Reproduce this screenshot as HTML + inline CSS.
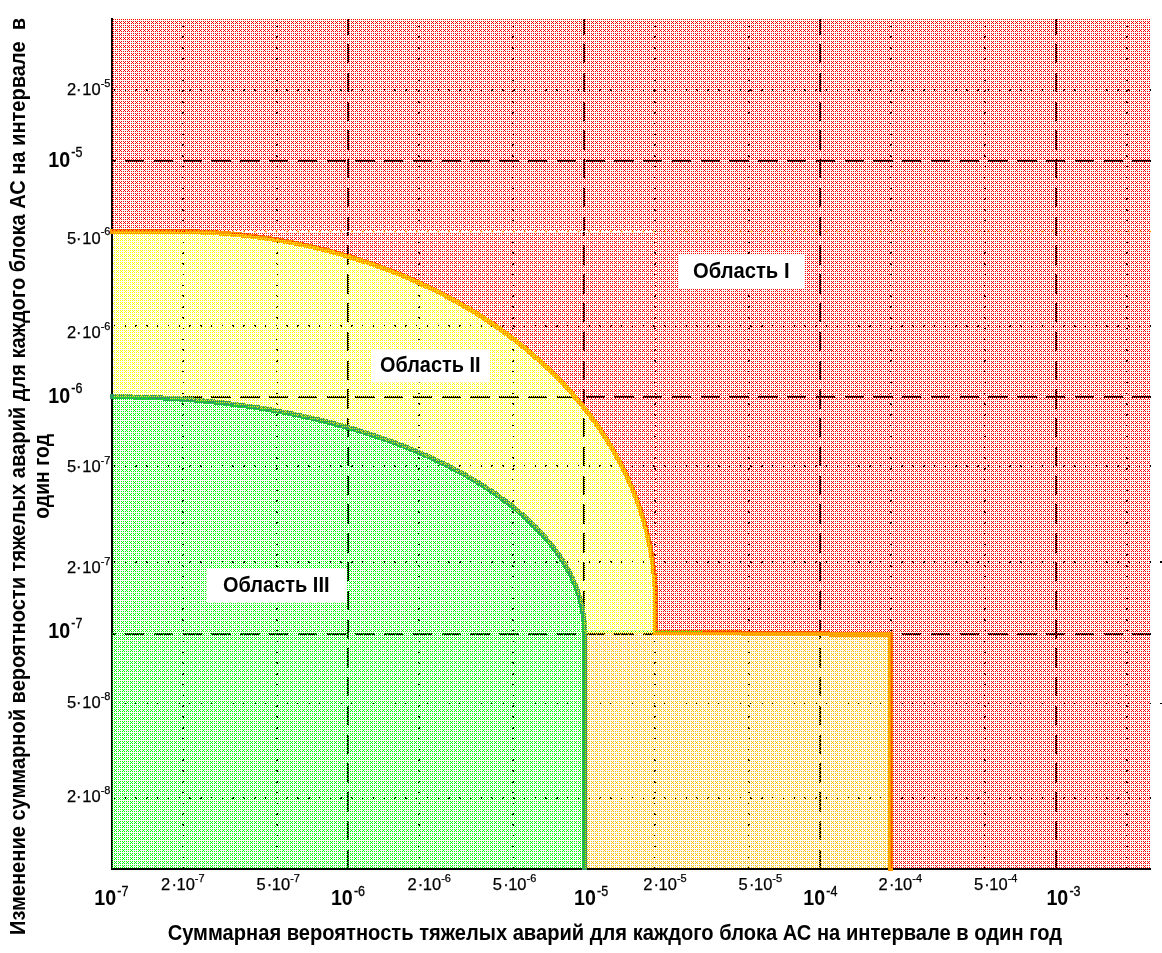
<!DOCTYPE html>
<html lang="ru"><head><meta charset="utf-8"><title>Области вероятности тяжелых аварий</title>
<style>
html,body{margin:0;padding:0;background:#fff;}
body{width:1162px;height:953px;overflow:hidden;position:relative;font-family:"Liberation Sans",Arial,sans-serif;}
svg{position:absolute;left:0;top:0;display:block;}
text{font-family:"Liberation Sans",Arial,sans-serif;fill:#000;}
.t{font-size:16.5px;stroke:#000;stroke-width:0.25px;}
.ts{font-size:11px;}
.m{font-size:22px;font-weight:bold;}
.ms{font-size:14px;font-weight:normal;stroke:#000;stroke-width:0.3px;}
.ttl{font-size:21.3px;font-weight:bold;}
.lab{font-size:21.3px;font-weight:bold;}
</style></head><body>
<svg width="1162" height="953" viewBox="0 0 1162 953">
<defs>
<pattern id="pr" width="8" height="8" patternUnits="userSpaceOnUse" x="0" y="0"><g fill="#ff0000"><rect x="1" y="1" width="1" height="1"/><rect x="3" y="1" width="1" height="1"/><rect x="5" y="1" width="1" height="1"/><rect x="7" y="1" width="1" height="1"/><rect x="1" y="3" width="1" height="1"/><rect x="3" y="3" width="1" height="1"/><rect x="5" y="3" width="1" height="1"/><rect x="7" y="3" width="1" height="1"/><rect x="1" y="5" width="1" height="1"/><rect x="3" y="5" width="1" height="1"/><rect x="5" y="5" width="1" height="1"/><rect x="7" y="5" width="1" height="1"/><rect x="1" y="7" width="1" height="1"/><rect x="3" y="7" width="1" height="1"/><rect x="5" y="7" width="1" height="1"/><rect x="7" y="7" width="1" height="1"/><rect x="0" y="6" width="1" height="1"/><rect x="4" y="6" width="1" height="1"/><rect x="0" y="2" width="1" height="1"/></g></pattern>
<pattern id="pb" width="8" height="8" patternUnits="userSpaceOnUse" x="7" y="0"><g fill="#ff0000"><rect x="1" y="1" width="1" height="1"/><rect x="3" y="1" width="1" height="1"/><rect x="5" y="1" width="1" height="1"/><rect x="7" y="1" width="1" height="1"/><rect x="1" y="3" width="1" height="1"/><rect x="3" y="3" width="1" height="1"/><rect x="5" y="3" width="1" height="1"/><rect x="7" y="3" width="1" height="1"/><rect x="1" y="5" width="1" height="1"/><rect x="3" y="5" width="1" height="1"/><rect x="5" y="5" width="1" height="1"/><rect x="7" y="5" width="1" height="1"/><rect x="1" y="7" width="1" height="1"/><rect x="3" y="7" width="1" height="1"/><rect x="5" y="7" width="1" height="1"/><rect x="7" y="7" width="1" height="1"/><rect x="0" y="6" width="1" height="1"/><rect x="4" y="6" width="1" height="1"/><rect x="0" y="2" width="1" height="1"/></g></pattern>
<pattern id="py" width="8" height="8" patternUnits="userSpaceOnUse" x="5" y="1"><g fill="#ffff00"><rect x="1" y="1" width="1" height="1"/><rect x="3" y="1" width="1" height="1"/><rect x="5" y="1" width="1" height="1"/><rect x="7" y="1" width="1" height="1"/><rect x="1" y="3" width="1" height="1"/><rect x="3" y="3" width="1" height="1"/><rect x="5" y="3" width="1" height="1"/><rect x="7" y="3" width="1" height="1"/><rect x="1" y="5" width="1" height="1"/><rect x="3" y="5" width="1" height="1"/><rect x="5" y="5" width="1" height="1"/><rect x="7" y="5" width="1" height="1"/><rect x="1" y="7" width="1" height="1"/><rect x="3" y="7" width="1" height="1"/><rect x="5" y="7" width="1" height="1"/><rect x="7" y="7" width="1" height="1"/><rect x="0" y="6" width="1" height="1"/><rect x="4" y="6" width="1" height="1"/><rect x="0" y="2" width="1" height="1"/></g></pattern>
<pattern id="pg" width="8" height="8" patternUnits="userSpaceOnUse" x="6" y="0"><g fill="#00ff00"><rect x="1" y="1" width="1" height="1"/><rect x="3" y="1" width="1" height="1"/><rect x="5" y="1" width="1" height="1"/><rect x="7" y="1" width="1" height="1"/><rect x="1" y="3" width="1" height="1"/><rect x="3" y="3" width="1" height="1"/><rect x="5" y="3" width="1" height="1"/><rect x="7" y="3" width="1" height="1"/><rect x="1" y="5" width="1" height="1"/><rect x="3" y="5" width="1" height="1"/><rect x="5" y="5" width="1" height="1"/><rect x="7" y="5" width="1" height="1"/><rect x="1" y="7" width="1" height="1"/><rect x="3" y="7" width="1" height="1"/><rect x="5" y="7" width="1" height="1"/><rect x="7" y="7" width="1" height="1"/><rect x="0" y="6" width="1" height="1"/><rect x="4" y="6" width="1" height="1"/><rect x="0" y="2" width="1" height="1"/></g></pattern>
<pattern id="ph" width="8" height="8" patternUnits="userSpaceOnUse" x="3" y="0"><g fill="#00ff00"><rect x="1" y="1" width="1" height="1"/><rect x="3" y="1" width="1" height="1"/><rect x="5" y="1" width="1" height="1"/><rect x="7" y="1" width="1" height="1"/><rect x="1" y="3" width="1" height="1"/><rect x="3" y="3" width="1" height="1"/><rect x="5" y="3" width="1" height="1"/><rect x="7" y="3" width="1" height="1"/><rect x="1" y="5" width="1" height="1"/><rect x="3" y="5" width="1" height="1"/><rect x="5" y="5" width="1" height="1"/><rect x="7" y="5" width="1" height="1"/><rect x="1" y="7" width="1" height="1"/><rect x="3" y="7" width="1" height="1"/><rect x="5" y="7" width="1" height="1"/><rect x="7" y="7" width="1" height="1"/><rect x="0" y="6" width="1" height="1"/><rect x="4" y="6" width="1" height="1"/><rect x="0" y="2" width="1" height="1"/></g></pattern>
<pattern id="po" width="8" height="8" patternUnits="userSpaceOnUse" x="4" y="0"><g fill="#ffc000"><rect x="1" y="1" width="1" height="1"/><rect x="3" y="1" width="1" height="1"/><rect x="5" y="1" width="1" height="1"/><rect x="7" y="1" width="1" height="1"/><rect x="1" y="3" width="1" height="1"/><rect x="3" y="3" width="1" height="1"/><rect x="5" y="3" width="1" height="1"/><rect x="7" y="3" width="1" height="1"/><rect x="1" y="5" width="1" height="1"/><rect x="3" y="5" width="1" height="1"/><rect x="5" y="5" width="1" height="1"/><rect x="7" y="5" width="1" height="1"/><rect x="1" y="7" width="1" height="1"/><rect x="3" y="7" width="1" height="1"/><rect x="5" y="7" width="1" height="1"/><rect x="7" y="7" width="1" height="1"/><rect x="0" y="6" width="1" height="1"/><rect x="4" y="6" width="1" height="1"/><rect x="0" y="2" width="1" height="1"/></g></pattern>
</defs>
<rect width="1162" height="953" fill="#fff"/>
<g stroke="#000" fill="none" stroke-width="2" stroke-dasharray="19.3 9.48" shape-rendering="crispEdges">
<line x1="348" y1="19" x2="348" y2="868" stroke-dashoffset="3.8"/>
<line x1="584" y1="19" x2="584" y2="868" stroke-dashoffset="3.8"/>
<line x1="820" y1="19" x2="820" y2="868" stroke-dashoffset="3.8"/>
<line x1="1056" y1="19" x2="1056" y2="868" stroke-dashoffset="3.8"/>
<line x1="112" y1="161" x2="1151" y2="161" stroke-dashoffset="15.7"/>
<line x1="112" y1="397" x2="1151" y2="397" stroke-dashoffset="15.7"/>
<line x1="112" y1="634" x2="1151" y2="634" stroke-dashoffset="15.7"/>
</g>
<g stroke="#000" fill="none" stroke-width="1.5" stroke-dasharray="1.5 9.29" shape-rendering="crispEdges">
<line x1="183.0" y1="25.7" x2="183.0" y2="868"/>
<line x1="277.0" y1="25.7" x2="277.0" y2="868"/>
<line x1="419.0" y1="25.7" x2="419.0" y2="868"/>
<line x1="513.0" y1="25.7" x2="513.0" y2="868"/>
<line x1="655.0" y1="25.7" x2="655.0" y2="868"/>
<line x1="749.0" y1="25.7" x2="749.0" y2="868"/>
<line x1="891.0" y1="25.7" x2="891.0" y2="868"/>
<line x1="985.0" y1="25.7" x2="985.0" y2="868"/>
<line x1="1127.0" y1="25.7" x2="1127.0" y2="868"/>
<line x1="113.8" y1="90.2" x2="1152" y2="90.2"/>
<line x1="113.8" y1="325.9" x2="1152" y2="325.9"/>
<line x1="113.8" y1="466.2" x2="1152" y2="466.2"/>
<line x1="113.8" y1="561.8" x2="1162" y2="561.8"/>
<line x1="113.8" y1="703.6" x2="1162" y2="703.6"/>
<line x1="113.8" y1="798.0" x2="1152" y2="798.0"/>
</g>
<rect x="111" y="18" width="2" height="852" fill="#000"/>
<rect x="111" y="868" width="1040" height="2" fill="#000"/>
<rect x="200" y="231" width="455" height="1" fill="#fff"/>
<path d="M110,231.5 L112,231.5 H175.8 A479.7,371 0 0 1 655.5,602.5 V632.5 L829,633.5" fill="none" stroke="#ff9900" stroke-width="5" stroke-linejoin="miter" shape-rendering="crispEdges"/>
<path d="M829,634.5 L890.5,634.5 L890.5,871" fill="none" stroke="#ff9900" stroke-width="5" stroke-linejoin="miter" shape-rendering="crispEdges"/>
<path d="M110,396.7 L112,396.7 H116.1 A468.4,235 0 0 1 584.5,631.7 V633 V870" fill="none" stroke="#339966" stroke-width="5" shape-rendering="crispEdges"/>
<g shape-rendering="crispEdges">
<path d="M112,19 H1151 V869 H890.5 V633 H655.5 V231 H112 Z" fill="url(#pr)"/>
<path d="M112,232 H655.5 V633 H112 Z M112,231.5 H175.8 A473.5,366.2 0 0 1 655.5,602.5 V633 L112,633 Z" fill-rule="evenodd" fill="url(#pb)"/>
<path d="M113,231.5 H175.8 A473.5,366.2 0 0 1 655.5,602.5 V633 L113,633 Z M113,396.7 H116.1 A471.7,236.6 0 0 1 584.5,631.7 V633 L113,633 Z" fill-rule="evenodd" fill="url(#py)"/>
<rect x="584.5" y="633" width="306" height="236" fill="url(#po)"/>
<path d="M112,396.7 H116.1 A471.7,236.6 0 0 1 584.5,631.7 V633 L112,633 Z" fill="url(#pg)"/>
<rect x="112" y="633" width="472.5" height="236" fill="url(#ph)"/>
</g>
<g stroke="#00ff00" stroke-width="1" shape-rendering="crispEdges"><line x1="587" y1="631.5" x2="655" y2="631.5" stroke-dasharray="1 3"/><line x1="655" y1="631.5" x2="703" y2="631.5" stroke-dasharray="1 1"/></g>
<line x1="113.8" y1="231.5" x2="1151" y2="231.5" stroke="#ff9900" stroke-width="1.3" stroke-dasharray="1.7 9.09"/>
<rect x="679.0" y="254.0" width="126.0" height="34.0" fill="#fff"/>
<text class="lab" x="693.0" y="278.0" textLength="96.5" lengthAdjust="spacingAndGlyphs">Область I</text>
<rect x="371.0" y="349.0" width="119.0" height="33.5" fill="#fff"/>
<text class="lab" x="380.0" y="372.0" textLength="100.5" lengthAdjust="spacingAndGlyphs">Область II</text>
<rect x="206.5" y="568.0" width="140.5" height="34.5" fill="#fff"/>
<text class="lab" x="223.0" y="592.0" textLength="106.5" lengthAdjust="spacingAndGlyphs">Область III</text>
<text class="t" x="66.9" y="94.8">2<tspan dx="0">·</tspan><tspan dx="0.7">10</tspan><tspan class="ts" dy="-8.2">-5</tspan></text>
<text class="t" x="66.9" y="243.6">5<tspan dx="0">·</tspan><tspan dx="0.7">10</tspan><tspan class="ts" dy="-8.2">-6</tspan></text>
<text class="t" x="66.9" y="337.8">2<tspan dx="0">·</tspan><tspan dx="0.7">10</tspan><tspan class="ts" dy="-8.2">-6</tspan></text>
<text class="t" x="66.9" y="472.4">5<tspan dx="0">·</tspan><tspan dx="0.7">10</tspan><tspan class="ts" dy="-8.2">-7</tspan></text>
<text class="t" x="66.9" y="573.4">2<tspan dx="0">·</tspan><tspan dx="0.7">10</tspan><tspan class="ts" dy="-8.2">-7</tspan></text>
<text class="t" x="66.9" y="708.3">5<tspan dx="0">·</tspan><tspan dx="0.7">10</tspan><tspan class="ts" dy="-8.2">-8</tspan></text>
<text class="t" x="66.9" y="802.4">2<tspan dx="0">·</tspan><tspan dx="0.7">10</tspan><tspan class="ts" dy="-8.2">-8</tspan></text>
<text class="m" transform="translate(48.2,166.8) scale(0.895,1)">10<tspan class="ms" dx="1.3" dy="-10">-5</tspan></text>
<text class="m" transform="translate(48.2,402.5) scale(0.895,1)">10<tspan class="ms" dx="1.3" dy="-10">-6</tspan></text>
<text class="m" transform="translate(48.2,638.3) scale(0.895,1)">10<tspan class="ms" dx="1.3" dy="-10">-7</tspan></text>
<text class="t" x="161.1" y="890.4">2<tspan dx="1.2">·</tspan><tspan dx="-0.5">10</tspan><tspan class="ts" dy="-8.2">-7</tspan></text>
<text class="t" x="256.4" y="890.4">5<tspan dx="1.2">·</tspan><tspan dx="-0.5">10</tspan><tspan class="ts" dy="-8.2">-7</tspan></text>
<text class="t" x="407.4" y="890.4">2<tspan dx="1.2">·</tspan><tspan dx="-0.5">10</tspan><tspan class="ts" dy="-8.2">-6</tspan></text>
<text class="t" x="492.8" y="890.4">5<tspan dx="1.2">·</tspan><tspan dx="-0.5">10</tspan><tspan class="ts" dy="-8.2">-6</tspan></text>
<text class="t" x="643.2" y="890.4">2<tspan dx="1.2">·</tspan><tspan dx="-0.5">10</tspan><tspan class="ts" dy="-8.2">-5</tspan></text>
<text class="t" x="738.6" y="890.4">5<tspan dx="1.2">·</tspan><tspan dx="-0.5">10</tspan><tspan class="ts" dy="-8.2">-5</tspan></text>
<text class="t" x="878.5" y="890.4">2<tspan dx="1.2">·</tspan><tspan dx="-0.5">10</tspan><tspan class="ts" dy="-8.2">-4</tspan></text>
<text class="t" x="973.9" y="890.4">5<tspan dx="1.2">·</tspan><tspan dx="-0.5">10</tspan><tspan class="ts" dy="-8.2">-4</tspan></text>
<text class="m" transform="translate(94.3,904.9) scale(0.895,1)">10<tspan class="ms" dx="1.3" dy="-9">-7</tspan></text>
<text class="m" transform="translate(330.9,904.9) scale(0.895,1)">10<tspan class="ms" dx="1.3" dy="-9">-6</tspan></text>
<text class="m" transform="translate(574.0,904.9) scale(0.895,1)">10<tspan class="ms" dx="1.3" dy="-9">-5</tspan></text>
<text class="m" transform="translate(803.2,904.9) scale(0.895,1)">10<tspan class="ms" dx="1.3" dy="-9">-4</tspan></text>
<text class="m" transform="translate(1046.4,904.9) scale(0.895,1)">10<tspan class="ms" dx="1.3" dy="-9">-3</tspan></text>
<text class="ttl" x="614.9" y="939.8" text-anchor="middle" textLength="894.5" lengthAdjust="spacingAndGlyphs">Суммарная вероятность тяжелых аварий для каждого блока АС на интервале в один год</text>
<g transform="translate(25.1,476.4) rotate(-90)"><text class="ttl" x="0" y="0" text-anchor="middle" textLength="917" lengthAdjust="spacingAndGlyphs" xml:space="preserve">Изменение суммарной вероятности тяжелых аварий для каждого блока АС на интервале  в</text><text class="ttl" x="0" y="23.7" text-anchor="middle" textLength="84.7" lengthAdjust="spacingAndGlyphs">один год</text></g>
</svg></body></html>
